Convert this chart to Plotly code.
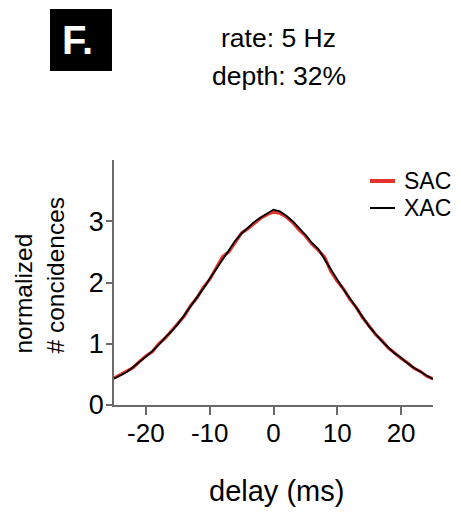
import plotly.graph_objects as go

# delay axis (ms)
delay = list(range(-25, 26))

# normalized coincidence counts
xac = [0.43, 0.49, 0.54, 0.62, 0.70, 0.79, 0.88, 0.98, 1.10, 1.20,
       1.32, 1.46, 1.60, 1.76, 1.90, 2.06, 2.22, 2.38, 2.53, 2.68,
       2.80, 2.90, 2.99, 3.06, 3.13, 3.19, 3.16, 3.09, 3.00, 2.89,
       2.78, 2.65, 2.55, 2.38, 2.21, 2.04, 1.88, 1.74, 1.58, 1.44,
       1.28, 1.16, 1.04, 0.94, 0.84, 0.77, 0.68, 0.61, 0.54, 0.48, 0.42]
sac = [0.44, 0.50, 0.56, 0.61, 0.71, 0.80, 0.87, 1.00, 1.09, 1.22,
       1.33, 1.45, 1.62, 1.75, 1.92, 2.05, 2.24, 2.42, 2.50, 2.66,
       2.81, 2.88, 2.97, 3.05, 3.11, 3.15, 3.13, 3.07, 2.98, 2.86,
       2.76, 2.63, 2.53, 2.42, 2.18, 2.02, 1.89, 1.72, 1.59, 1.42,
       1.29, 1.15, 1.05, 0.93, 0.85, 0.76, 0.69, 0.60, 0.55, 0.47, 0.43]

x_ticks = [-20, -10, 0, 10, 20]
x_tick_labels = ["-20", "-10", "0", "10", "20"]
y_ticks = [0, 1, 2, 3]

RED = "#e2342a"
AXIS = "#6a6a6a"
FONT = "Liberation Sans, Arial, sans-serif"

fig = go.Figure()
fig.add_trace(go.Scatter(x=delay, y=sac, mode="lines", name="SAC",
                         line=dict(color=RED, width=3.2), showlegend=False))
fig.add_trace(go.Scatter(x=delay, y=xac, mode="lines", name="XAC",
                         line=dict(color="black", width=1.8), showlegend=False))

fig.update_layout(
    width=461, height=514,
    margin=dict(l=114, r=28, t=160, b=109),
    paper_bgcolor="white", plot_bgcolor="white",
    font=dict(family=FONT, color="black", size=26),
    xaxis=dict(range=[-25, 25], tickvals=x_ticks, ticktext=x_tick_labels,
               ticks="outside", ticklen=8, ticklabelstandoff=-4,
               tickcolor=AXIS, tickwidth=1.5, showline=True, linecolor=AXIS,
               linewidth=1.5, showgrid=False, zeroline=False,
               tickfont=dict(size=26)),
    yaxis=dict(range=[0, 4], tickvals=y_ticks, ticks="outside", ticklen=6,
               ticklabelstandoff=-3,
               tickcolor=AXIS, tickwidth=1.5, showline=True, linecolor=AXIS,
               linewidth=1.5, showgrid=False, zeroline=False,
               tickfont=dict(size=27)),
)

# axis titles
fig.add_annotation(text="delay (ms)", xref="paper", yref="paper",
                   x=0.51, y=-0.35, xanchor="center", yanchor="middle",
                   showarrow=False, font=dict(size=29))
fig.add_annotation(text="normalized<br># concidences", xref="paper", yref="paper",
                   x=-0.232, y=0.204, xanchor="center", yanchor="bottom",
                   textangle=-90, align="left", showarrow=False,
                   font=dict(size=24.5))

# condition labels
fig.add_annotation(text="rate: 5 Hz", xref="paper", yref="paper",
                   x=0.517, y=1.498, xanchor="center", yanchor="middle",
                   showarrow=False, font=dict(size=26.5))
fig.add_annotation(text="depth: 32%", xref="paper", yref="paper",
                   x=0.517, y=1.343, xanchor="center", yanchor="middle",
                   showarrow=False, font=dict(size=26.5))

# panel letter
fig.add_shape(type="rect", xref="paper", yref="paper",
              x0=-0.2006, x1=-0.0063, y0=1.3633, y1=1.6163,
              fillcolor="black", line=dict(width=0))
fig.add_annotation(text="<b>F.</b>", xref="paper", yref="paper",
                   x=-0.115, y=1.49, xanchor="center", yanchor="middle",
                   showarrow=False, font=dict(size=40, color="white"))

# legend
for name, color, width, ypix in [("SAC", RED, 4, 181), ("XAC", "black", 2, 208)]:
    yp = (405 - ypix) / 245
    fig.add_shape(type="line", xref="paper", yref="paper",
                  x0=(370 - 114) / 319, x1=(395 - 114) / 319, y0=yp, y1=yp,
                  line=dict(color=color, width=width))
    fig.add_annotation(text=name, xref="paper", yref="paper",
                       x=(402 - 114) / 319, y=yp, xanchor="left", yanchor="middle",
                       showarrow=False, font=dict(size=23))

fig.write_html("out.html")
